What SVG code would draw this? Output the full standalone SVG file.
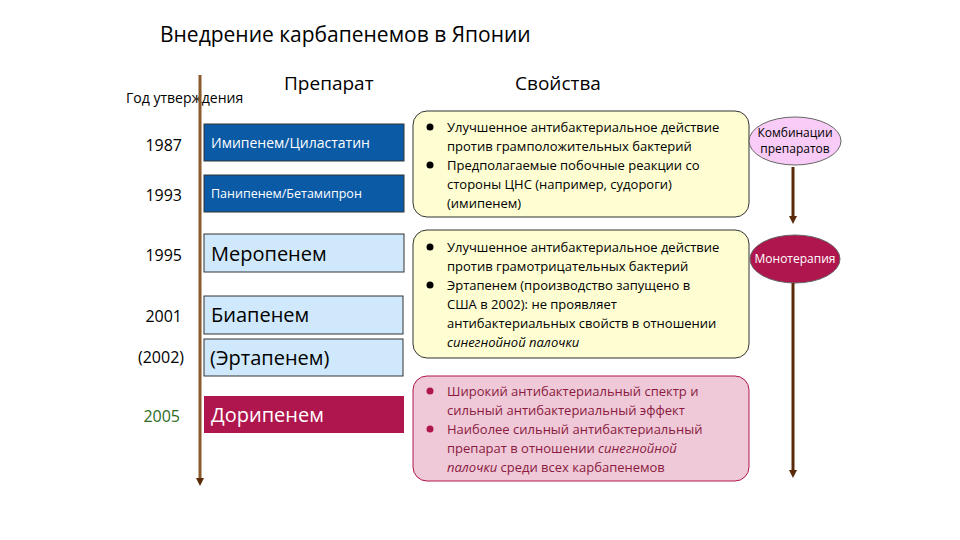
<svg xmlns="http://www.w3.org/2000/svg" width="960" height="540" viewBox="0 0 960 540">
<defs>
<style>
text{font-family:"Open Sans","Noto Sans",sans-serif;fill:#000}
.yr{font-size:16px;text-anchor:end}
.bl{fill:#0a5aa6;stroke:#333;stroke-width:1}
.lb{fill:#cfe8fb;stroke:#333;stroke-width:1}
.p{font-size:13px}
.it{font-style:italic}
</style>
<marker id="ah" markerWidth="8" markerHeight="8" refX="4" refY="4" orient="auto" markerUnits="userSpaceOnUse"><path d="M0,0L8,4L0,8z" fill="#5a2a0a"/></marker>
</defs>
<rect width="960" height="540" fill="#fff"/>
<text x="160" y="42" font-size="21">Внедрение карбапенемов в Японии</text>
<text x="126" y="103" font-size="14">Год утверждения</text>
<text x="284" y="90" font-size="19">Препарат</text>
<text x="515" y="90" font-size="19">Свойства</text>
<g id="years">
<text class="yr" x="182" y="151">1987</text>
<text class="yr" x="182" y="201">1993</text>
<text class="yr" x="182" y="261">1995</text>
<text class="yr" x="182" y="322">2001</text>
<text class="yr" x="184" y="363">(2002)</text>
<text class="yr" x="180" y="422" style="fill:#2e6b1f">2005</text>
</g>
<g id="imipenem"><rect class="bl" x="204" y="124" width="200" height="37"/><text x="211" y="148" font-size="14" style="fill:#fff">Имипенем/Циластатин</text></g>
<g id="panipenem"><rect class="bl" x="204" y="175" width="200" height="37"/><text x="211" y="198" font-size="12.5" style="fill:#fff">Панипенем/Бетамипрон</text></g>
<g id="meropenem"><rect class="lb" x="204" y="234" width="200" height="38"/><text x="211" y="261" font-size="20">Меропенем</text></g>
<g id="biapenem"><rect class="lb" x="204" y="296" width="199" height="38"/><text x="211" y="322" font-size="20">Биапенем</text></g>
<g id="ertapenem"><rect class="lb" x="204" y="339" width="199" height="37"/><text x="210" y="365" font-size="20">(Эртапенем)</text></g>
<g id="doripenem"><rect x="204" y="396" width="200" height="37" fill="#b0164e"/><text x="211" y="422" font-size="20" style="fill:#fff">Дорипенем</text></g>
<g id="props1"><rect x="413" y="111" width="336" height="106" rx="14" fill="#fefed2" stroke="#333"/>
<circle cx="430" cy="127" r="3.5" fill="#000"/><circle cx="430" cy="165" r="3.5" fill="#000"/>
<text class="p" x="447" y="132">Улучшенное антибактериальное действие</text>
<text class="p" x="447" y="151">против грамположительных бактерий</text>
<text class="p" x="447" y="170">Предполагаемые побочные реакции со</text>
<text class="p" x="447" y="189">стороны ЦНС (например, судороги)</text>
<text class="p" x="447" y="208">(имипенем)</text></g>
<g id="props2"><rect x="413" y="230" width="336" height="128" rx="14" fill="#fefed2" stroke="#333"/>
<circle cx="430" cy="247" r="3.5" fill="#000"/><circle cx="430" cy="285" r="3.5" fill="#000"/>
<text class="p" x="447" y="252">Улучшенное антибактериальное действие</text>
<text class="p" x="447" y="271">против грамотрицательных бактерий</text>
<text class="p" x="447" y="290">Эртапенем (производство запущено в</text>
<text class="p" x="447" y="309">США в 2002): не проявляет</text>
<text class="p" x="447" y="328">антибактериальных свойств в отношении</text>
<text class="p it" x="447" y="347">синегнойной палочки</text></g>
<g id="props3"><rect x="413" y="376" width="336" height="105" rx="14" fill="#efc9d8" stroke="#b0164e"/>
<circle cx="430" cy="391" r="3.5" fill="#b0164e"/><circle cx="430" cy="429" r="3.5" fill="#b0164e"/>
<text class="p" x="447" y="396" style="fill:#8a1a40">Широкий антибактериальный спектр и</text>
<text class="p" x="447" y="415" style="fill:#8a1a40">сильный антибактериальный эффект</text>
<text class="p" x="447" y="434" style="fill:#8a1a40">Наиболее сильный антибактериальный</text>
<text class="p" x="447" y="453" style="fill:#8a1a40">препарат в отношении <tspan class="it">синегнойной</tspan></text>
<text class="p" x="447" y="472" style="fill:#8a1a40"><tspan class="it">палочки</tspan> среди всех карбапенемов</text></g>
<g id="combo"><ellipse cx="795" cy="141" rx="46" ry="24" fill="#f9ccf7" stroke="#666"/>
<text x="795" y="137" font-size="12" text-anchor="middle">Комбинации</text><text x="795" y="153" font-size="12" text-anchor="middle">препаратов</text></g>
<g id="mono"><ellipse cx="795" cy="259" rx="45" ry="24" fill="#b0164e" stroke="#666"/>
<text x="795" y="263" font-size="12" text-anchor="middle" style="fill:#fff">Монотерапия</text></g>
<g id="connectors" stroke-width="3">
<line x1="200" y1="75" x2="200" y2="482" stroke="#8b5a2b" marker-end="url(#ah)"/>
<line x1="793" y1="167" x2="793" y2="220" stroke="#5a2a0a" marker-end="url(#ah)"/>
<line x1="793" y1="283" x2="793" y2="474" stroke="#5a2a0a" marker-end="url(#ah)"/>
</g>
</svg>
